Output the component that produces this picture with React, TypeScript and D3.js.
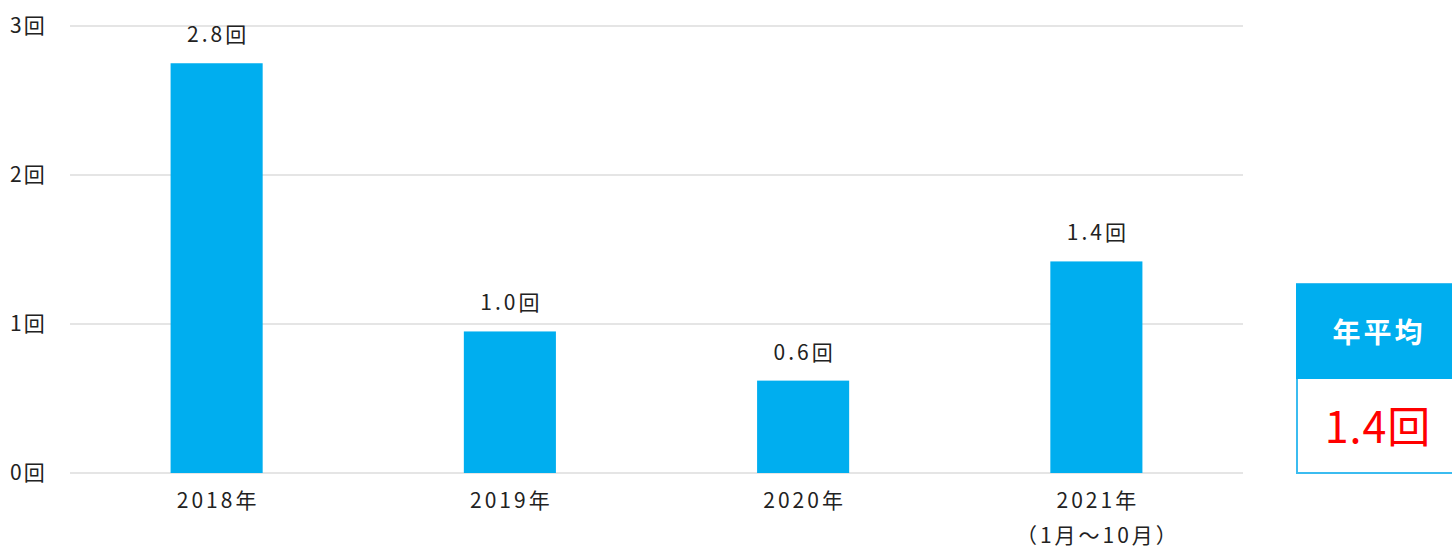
import React from "react";
import * as d3 from "d3";

const categories = ["2018年", "2019年", "2020年", "2021年"];
const subLabels = ["", "", "", "（1月～10月）"];
const values = [2.75, 0.95, 0.62, 1.42];
const valueLabels = ["2.8回", "1.0回", "0.6回", "1.4回"];
const yTicks = [0, 1, 2, 3];
const yTickLabels = ["0回", "1回", "2回", "3回"];
const averageTitle = "年平均";
const averageValue = "1.4回";

const W = 1452;
const H = 550;
const FONT = "'Noto Sans CJK JP', 'Noto Sans', sans-serif";
const BLUE = "#00AEEF";
const LS = 3;

export default function App() {
  const x = d3.scaleBand<string>().domain(categories).range([70, 1243]).paddingInner(0.686).paddingOuter(0.343);
  const y = d3.scaleLinear().domain([0, 3]).range([473, 26]);
  return (
    <svg width={W} height={H} style={{ position: "absolute", left: 0, top: 0 }} fontFamily={FONT}>
      {yTicks.map((t, i) => (
        <g key={t}>
          <line x1={70} x2={1243} y1={y(t)} y2={y(t)} stroke="#dcdcdc" strokeWidth={1.5} />
          <text x={10} y={y(t) + 7} fontSize={21} letterSpacing={2} fill="#222">{yTickLabels[i]}</text>
        </g>
      ))}
      {categories.map((c, i) => {
        const cx = (x(c) ?? 0) + x.bandwidth() / 2 + LS / 2;
        return (
          <g key={c}>
            <rect x={x(c)} y={y(values[i])} width={x.bandwidth()} height={y(0) - y(values[i])} fill={BLUE} />
            <text x={cx} y={y(values[i]) - 21} textAnchor="middle" fontSize={21} letterSpacing={LS} fill="#222">{valueLabels[i]}</text>
            <text x={cx} y={508} textAnchor="middle" fontSize={21} letterSpacing={LS} fill="#222">{c}</text>
            {subLabels[i] && (
              <text x={cx} y={543} textAnchor="middle" fontSize={21} letterSpacing={LS} fill="#222">{subLabels[i]}</text>
            )}
          </g>
        );
      })}
      <rect x={1297} y={284} width={160} height={189} fill="#fff" stroke="#3bbcf0" strokeWidth={2} />
      <rect x={1296} y={284} width={160} height={95} fill={BLUE} />
      <text x={1379} y={343} textAnchor="middle" fontSize={28} letterSpacing={3} fontWeight="bold" fill="#fff">{averageTitle}</text>
      <text x={1378} y={443} textAnchor="middle" fontSize={43} letterSpacing={1} fill="#ff0000">{averageValue}</text>
    </svg>
  );
}
